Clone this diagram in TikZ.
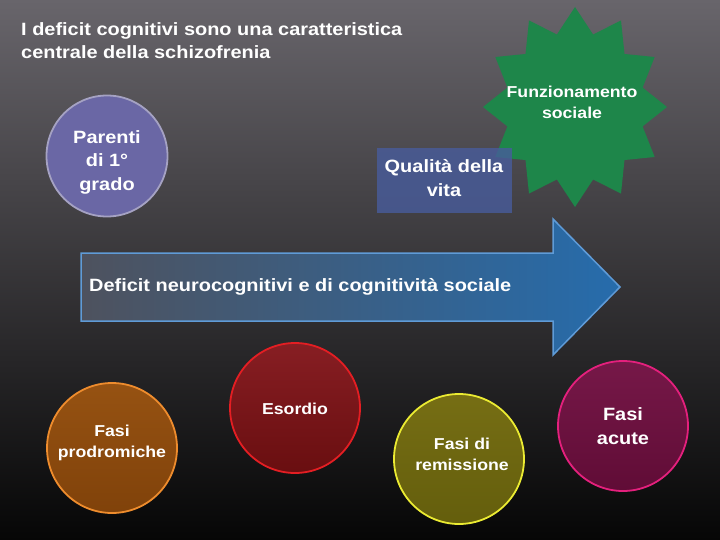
\documentclass[tikz,border=0pt]{standalone}
\usepackage{fontspec}
\setmainfont[FakeStretch=1.12]{Liberation Sans}
\definecolor{bgtop}{RGB}{104,101,107}
\definecolor{bgmid}{RGB}{64,62,66}
\definecolor{bgbot}{RGB}{6,6,6}
\definecolor{stargreen}{RGB}{30,134,74}
\definecolor{parfill}{RGB}{106,103,165}
\definecolor{pardraw}{RGB}{165,162,195}
\definecolor{boxfill}{RGB}{72,92,156}
\definecolor{arrleft}{RGB}{78,82,94}
\definecolor{arrright}{RGB}{38,108,172}
\definecolor{arrdraw}{RGB}{95,155,215}
\definecolor{protop}{RGB}{150,82,18}
\definecolor{probot}{RGB}{128,66,10}
\definecolor{prodraw}{RGB}{238,140,45}
\definecolor{esotop}{RGB}{135,30,35}
\definecolor{esobot}{RGB}{105,14,16}
\definecolor{esodraw}{RGB}{228,30,35}
\definecolor{remtop}{RGB}{118,110,20}
\definecolor{rembot}{RGB}{100,94,12}
\definecolor{remdraw}{RGB}{235,235,50}
\definecolor{acutop}{RGB}{118,24,72}
\definecolor{acubot}{RGB}{96,12,54}
\definecolor{acudraw}{RGB}{228,32,125}
\begin{document}
\begin{tikzpicture}[x=1pt,y=-1pt,
  txt/.style={font=\bfseries\fontsize{17.8}{23.5}\selectfont, text=white, align=center, inner sep=0pt},
  smalltxt/.style={font=\bfseries\fontsize{15.8}{21}\selectfont, text=white, align=center, inner sep=0pt},
  phase/.style={circle, minimum size=130pt, inner sep=0pt, line width=1.8pt}]
\useasboundingbox (0,0) rectangle (720,540);
\shade[top color=bgtop, middle color=bgmid, bottom color=bgbot] (0,0) rectangle (720,540);

% title
\node[txt, anchor=north west, align=left] (title) at (21,22) {I deficit cognitivi sono una caratteristica\\centrale della schizofrenia};

% star
\fill[stargreen] (575,7) \foreach \i in {1,...,23} { -- ({575+(92-22*mod(\i,2))*sin(15*\i)}, {107-(100-25*mod(\i,2))*cos(15*\i)}) } -- cycle;
\node[smalltxt] (funz) at (572,102) {Funzionamento\\sociale};

% parenti
\node[circle, minimum size=121pt, inner sep=0pt, fill=parfill, draw=pardraw, line width=1.8pt] (par) at (107,156) {};
\node[txt] at (107,162) {Parenti\\di 1°\\grado};

% qualita box
\node[rectangle, minimum width=135pt, minimum height=65pt, inner sep=0pt, fill=boxfill, fill opacity=0.8] (qual) at (444.5,180.5) {};
\node[txt] at (444,178) {Qualità della\\vita};

% arrow
\shade[left color=arrleft, right color=arrright, draw=arrdraw, line width=1.5pt]
  (81,253) -- (553,253) -- (553,219) -- (620,287) -- (553,355) -- (553,321) -- (81,321) -- cycle;
\node[txt, anchor=west] (def) at (89,287) {Deficit neurocognitivi e di cognitività sociale};

% phases
\node[phase, top color=protop, bottom color=probot, draw=prodraw] (pro) at (112,448) {};
\node[smalltxt] at (112,443) {Fasi\\prodromiche};
\node[phase, top color=esotop, bottom color=esobot, draw=esodraw] (eso) at (295,408) {};
\node[smalltxt] at (295,409) {Esordio};
\node[phase, top color=remtop, bottom color=rembot, draw=remdraw] (rem) at (459,459) {};
\node[smalltxt] at (462,454) {Fasi di\\remissione};
\node[phase, top color=acutop, bottom color=acubot, draw=acudraw] (acu) at (623,426) {};
\node[txt] at (623,426) {Fasi\\acute};
\end{tikzpicture}
\end{document}
